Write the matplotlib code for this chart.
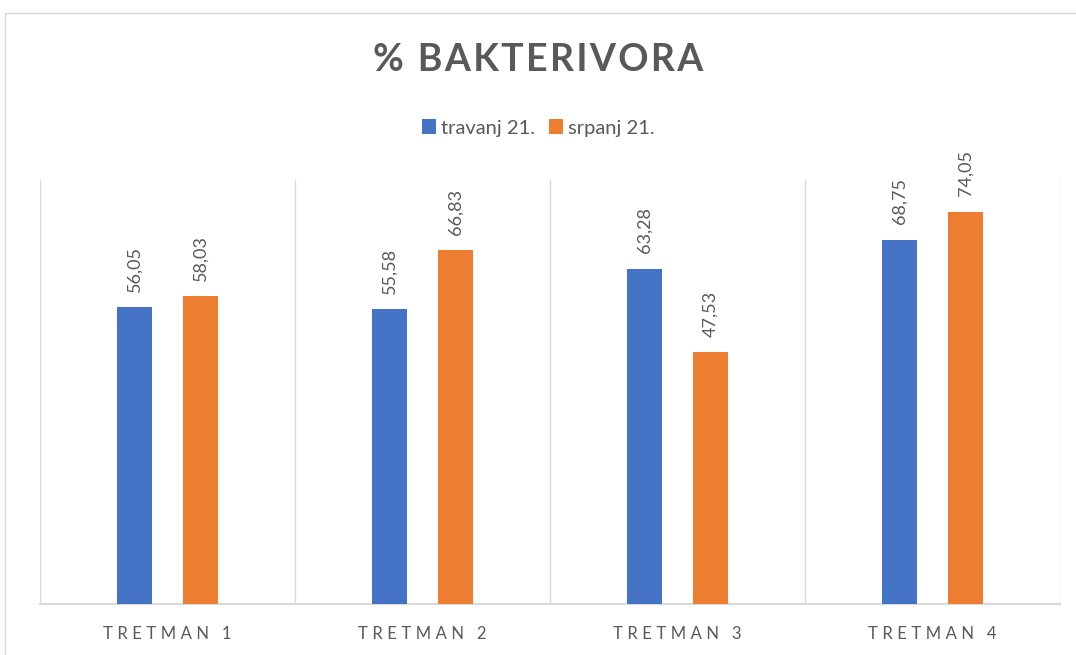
import matplotlib
matplotlib.use("Agg")
import matplotlib.pyplot as plt
from matplotlib.patches import Rectangle
import numpy as np

categories = ["TRETMAN 1", "TRETMAN 2", "TRETMAN 3", "TRETMAN 4"]
series_names = ["travanj 21.", "srpanj 21."]
travanj = [56.05, 55.58, 63.28, 68.75]
srpanj = [58.03, 66.83, 47.53, 74.05]
colors = ["#4472C4", "#ED7D31"]

W, H = 1076, 655
fig = plt.figure(figsize=(W / 100, H / 100), dpi=100)
fig.patch.set_facecolor("white")

# outer chart border
fig.add_artist(Rectangle((5 / W, -0.05), 1.2, (H - 13) / H + 0.05, transform=fig.transFigure,
                         fill=False, edgecolor="#d9d9d9", linewidth=1.0))

ax = fig.add_axes([40 / W, (H - 604) / H, (1060 - 40) / W, (604 - 180) / H])
x = np.arange(len(categories))
bw = 0.137
off = 0.129
b1 = ax.bar(x - off, travanj, bw, color=colors[0], label=series_names[0], zorder=3)
b2 = ax.bar(x + off, srpanj, bw, color=colors[1], label=series_names[1], zorder=3)

ax.set_xlim(-0.5, len(categories) - 0.5)
ax.set_ylim(0, 80)
ax.set_yticks([])
for s in ["top", "right", "left"]:
    ax.spines[s].set_visible(False)
ax.spines["bottom"].set_color("#d9d9d9")
ax.spines["bottom"].set_linewidth(1.5)
for b in np.arange(-0.5, len(categories), 1.0):
    ax.axvline(b, color="#d9d9d9", linewidth=1.0, zorder=1)

ax.set_xticks(x)
gap = "\u2008\u200a"
spaced = [gap.join(list(c.split(" ")[0])) + gap + "\u2002" + c.split(" ")[1] for c in categories]
ax.set_xticklabels(spaced, fontsize=12, color="#595959", family=["Lato", "DejaVu Sans"])
ax.tick_params(axis="x", length=0, pad=16)

for bars, vals in ((b1, travanj), (b2, srpanj)):
    for r, v in zip(bars, vals):
        ax.annotate(f"{v:.2f}".replace(".", ","), (r.get_x() + r.get_width() / 2, v),
                    xytext=(0, 11), textcoords="offset points", rotation=90,
                    ha="center", va="bottom", fontsize=13, color="#595959",
                    family=["Lato", "DejaVu Sans"])

fig.text(0.5, (H - 60) / H, "\u200a".join(list("% BAKTERIVORA")), ha="center", va="center",
         fontsize=27, fontweight="bold", color="#595959", family=["Lato", "DejaVu Sans"])

leg = fig.legend(handles=[b1, b2], labels=series_names, loc="center",
                 bbox_to_anchor=(0.5, (H - 128) / H), ncol=2, frameon=False,
                 handlelength=0.7, handleheight=0.7, handletextpad=0.25,
                 columnspacing=0.7, prop={"family": "Lato", "size": 14.5})
for t in leg.get_texts():
    t.set_color("#595959")

fig.savefig("out.png", dpi=100)
